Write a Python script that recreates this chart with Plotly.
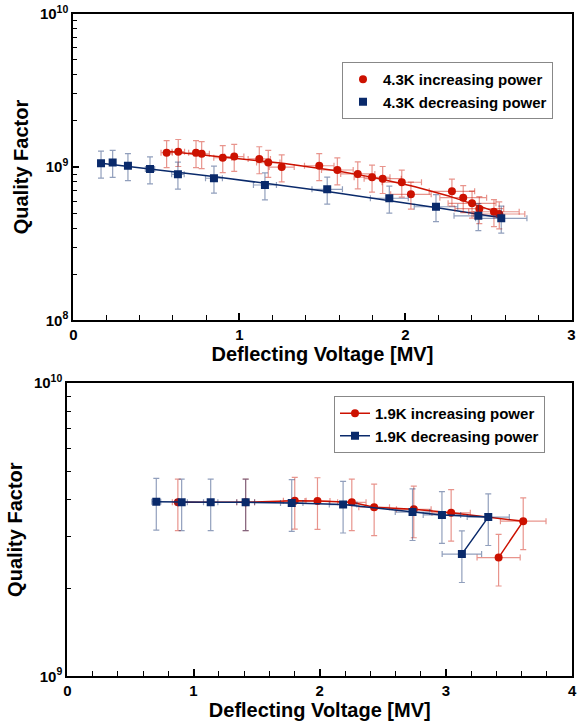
import numpy as np
import plotly.graph_objects as go

# ---- Top panel: 4.3 K ----
v43_inc = [0.562, 0.632, 0.739, 0.773, 0.900, 0.969, 1.120, 1.174, 1.255, 1.481, 1.590,
           1.713, 1.799, 1.863, 1.978, 2.033, 2.280, 2.348, 2.401, 2.445, 2.533, 2.565]
q43_inc = [1.24e9, 1.26e9, 1.24e9, 1.22e9, 1.15e9, 1.17e9, 1.13e9, 1.07e9, 1.00e9, 1.02e9, 9.57e8,
           9.02e8, 8.58e8, 8.40e8, 7.96e8, 6.64e8, 6.95e8, 6.31e8, 5.80e8, 5.35e8, 5.11e8, 4.94e8]
v43_dec = [0.167, 0.237, 0.329, 0.462, 0.630, 0.847, 1.154, 1.529, 1.903, 2.184, 2.439, 2.577]
q43_dec = [1.06e9, 1.07e9, 1.02e9, 9.71e8, 8.97e8, 8.45e8, 7.64e8, 7.16e8, 6.26e8, 5.51e8, 4.81e8, 4.63e8]

# ---- Bottom panel: 1.9 K ----
v19_inc = [0.876, 1.413, 1.802, 1.982, 2.254, 2.431, 2.745, 3.041, 3.612, 3.417]
q19_inc = [3.92e9, 3.92e9, 3.97e9, 3.96e9, 3.92e9, 3.77e9, 3.71e9, 3.61e9, 3.38e9, 2.54e9]
v19_dec = [0.705, 0.906, 1.136, 1.413, 1.778, 2.185, 2.735, 2.968, 3.335, 3.126]
q19_dec = [3.94e9, 3.92e9, 3.92e9, 3.92e9, 3.90e9, 3.85e9, 3.63e9, 3.55e9, 3.49e9, 2.61e9]

labels_top = ["4.3K increasing power", "4.3K decreasing power"]
labels_bot = ["1.9K increasing power", "1.9K decreasing power"]

RED = "#CC1100"
BLUE = "#0A2A6B"
RED_ERR = "rgba(204,17,0,0.45)"
BLUE_ERR = "rgba(10,42,107,0.45)"
W, H = 578, 725

fig = go.Figure()


def trend(v, q, deg):
    v = np.asarray(v)
    c = np.polyfit(v, np.log10(q), deg)
    xs = np.linspace(v.min(), v.max(), 80)
    return xs, 10 ** np.polyval(c, xs)


# Top panel trend lines
for v, q, col, deg in [(v43_inc, q43_inc, RED, 3), (v43_dec, q43_dec, BLUE, 2)]:
    xs, ys = trend(v, q, deg)
    fig.add_trace(go.Scatter(x=xs, y=ys, mode="lines", line=dict(color=col, width=1.5),
                             showlegend=False, hoverinfo="skip", xaxis="x", yaxis="y"))

# Top panel points
fig.add_trace(go.Scatter(
    x=v43_inc, y=q43_inc, mode="markers", name="<b>" + labels_top[0] + "</b>",
    marker=dict(symbol="circle", size=8, color=RED),
    error_y=dict(type="percent", value=20, color=RED_ERR, thickness=1.2, width=3),
    error_x=dict(type="percent", value=6, color=RED_ERR, thickness=1.2, width=3),
    xaxis="x", yaxis="y", legend="legend"))
fig.add_trace(go.Scatter(
    x=v43_dec, y=q43_dec, mode="markers", name="<b>" + labels_top[1] + "</b>",
    marker=dict(symbol="square", size=8, color=BLUE),
    error_y=dict(type="percent", value=20, color=BLUE_ERR, thickness=1.2, width=3),
    error_x=dict(type="percent", value=6, color=BLUE_ERR, thickness=1.2, width=3),
    xaxis="x", yaxis="y", legend="legend"))

# Bottom panel
fig.add_trace(go.Scatter(
    x=v19_inc, y=q19_inc, mode="lines+markers", name="<b>" + labels_bot[0] + "</b>",
    line=dict(color=RED, width=1.5),
    marker=dict(symbol="circle", size=8, color=RED),
    error_y=dict(type="percent", value=20, color=RED_ERR, thickness=1.2, width=3),
    error_x=dict(type="percent", value=5, color=RED_ERR, thickness=1.2, width=3),
    xaxis="x2", yaxis="y2", legend="legend2"))
fig.add_trace(go.Scatter(
    x=v19_dec, y=q19_dec, mode="lines+markers", name="<b>" + labels_bot[1] + "</b>",
    line=dict(color=BLUE, width=1.5),
    marker=dict(symbol="square", size=8, color=BLUE),
    error_y=dict(type="percent", value=20, color=BLUE_ERR, thickness=1.2, width=3),
    error_x=dict(type="percent", value=5, color=BLUE_ERR, thickness=1.2, width=3),
    xaxis="x2", yaxis="y2", legend="legend2"))

FONT = "Liberation Sans, Arial, sans-serif"
tickfont = dict(family=FONT, size=15, color="black")
titlefont = dict(family=FONT, size=20, color="black")


def xaxis_cfg(domain, anchor, rng, minor_dtick):
    return dict(domain=domain, anchor=anchor, range=rng, dtick=1, tick0=0,
                ticks="inside", ticklen=7, tickwidth=1.5, tickcolor="black",
                minor=dict(dtick=minor_dtick, ticks="inside", ticklen=5, tickwidth=1.2, tickcolor="black"),
                showline=True, linewidth=2, linecolor="black", mirror=True,
                showgrid=False, zeroline=False, automargin=False,
                tickfont=tickfont, tickprefix="<b>", ticksuffix="</b>",
                title=dict(text="<b>Deflecting Voltage [MV]</b>", font=titlefont, standoff=0))


def yaxis_cfg(domain, anchor, lo, hi):
    majors = [10 ** k for k in range(lo, hi + 1)]
    minors = [m * 10 ** k for k in range(lo, hi) for m in range(2, 10)]
    return dict(domain=domain, anchor=anchor, type="log", range=[lo, hi],
                tickmode="array", tickvals=majors,
                ticktext=["<b>10<sup>%d</sup></b>" % k for k in range(lo, hi + 1)],
                ticks="inside", ticklen=6, tickwidth=1.5, tickcolor="black",
                minor=dict(tickmode="array", tickvals=minors, ticks="inside", ticklen=4,
                           tickwidth=1.2, tickcolor="black"),
                showline=True, linewidth=2, linecolor="black", mirror=True,
                showgrid=False, zeroline=False, automargin=False, tickfont=tickfont,
                title=dict(text="<b>Quality Factor</b>", font=titlefont, standoff=6))


top_y = [1 - 320.4 / H, 1 - 13.7 / H]
bot_y = [1 - 676.3 / H, 1 - 383 / H]

fig.update_layout(
    width=W, height=H,
    margin=dict(l=0, r=0, t=0, b=0, autoexpand=False),
    paper_bgcolor="white", plot_bgcolor="white",
    font=dict(family=FONT, color="black"),
    xaxis=xaxis_cfg([73.3 / W, 571.5 / W], "y", [0, 3], 0.2),
    yaxis=yaxis_cfg(top_y, "x", 8, 10),
    xaxis2=xaxis_cfg([67.3 / W, 572.2 / W], "y2", [0, 4], 0.2),
    yaxis2=yaxis_cfg(bot_y, "x2", 9, 10),
    legend=dict(x=553 / W, y=1 - 62 / H, xanchor="right", yanchor="top",
                bgcolor="white", bordercolor="#888888", borderwidth=1,
                font=dict(family=FONT, size=15, color="black"),
                itemwidth=30, tracegroupgap=0),
    legend2=dict(x=545 / W, y=1 - 396 / H, xanchor="right", yanchor="top",
                 bgcolor="white", bordercolor="#888888", borderwidth=1,
                 font=dict(family=FONT, size=15, color="black"),
                 itemwidth=30, tracegroupgap=0),
    showlegend=True,
)

fig.write_html("out.html", config={"displayModeBar": False},
               post_script="document.body.style.margin='0';document.body.style.overflow='hidden';")
